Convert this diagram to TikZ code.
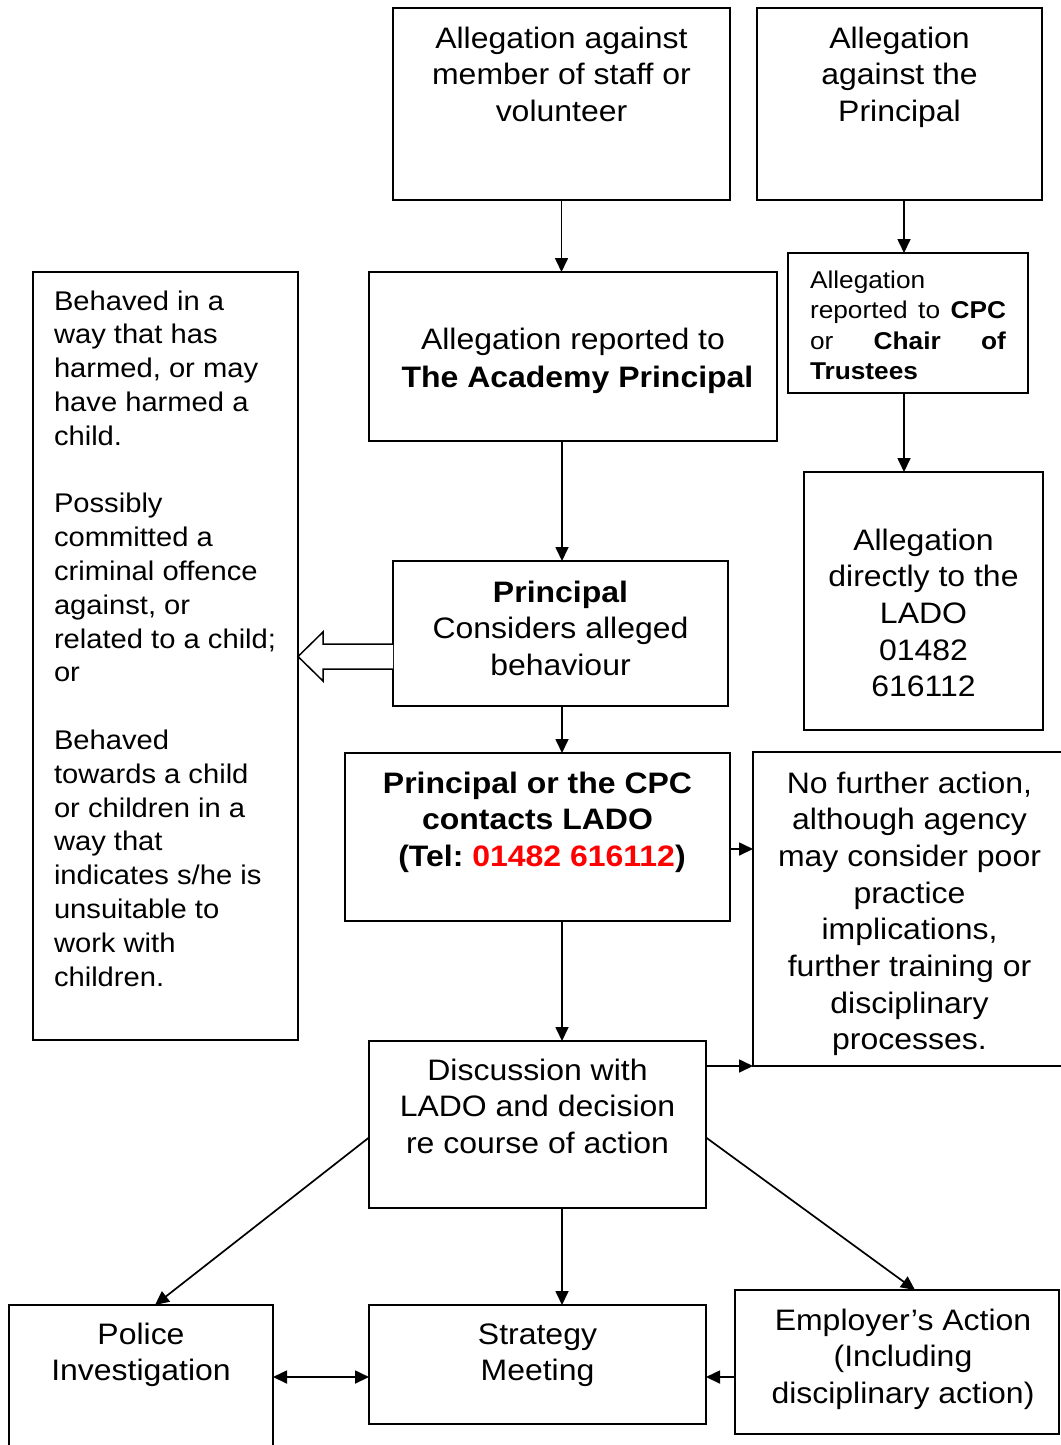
\documentclass[tikz,border=0pt]{standalone}
\usepackage{fontspec}
\setmainfont[FakeStretch=1.08]{Liberation Sans}
\usetikzlibrary{arrows.meta}
\frenchspacing
\newcommand\fmain{\fontsize{29.6pt}{36.7pt}\selectfont}
\newcommand\fleft{\fontsize{27pt}{33.8pt}\selectfont}
\newcommand\fsmall{\fontsize{24.3pt}{30.5pt}\selectfont}
\newcommand\T{\rule{0pt}{24pt}}
\begin{document}
\begin{tikzpicture}[x=1pt,y=-1pt,
  box/.style={draw, line width=1.6pt, rectangle, inner sep=0pt, outer sep=0pt},
  txt/.style={inner sep=0pt, outer sep=0pt, align=center, font=\fmain, anchor=north},
  arr/.style={line width=1.7pt, -{Triangle[length=14pt,width=13pt]}},
  arrdbl/.style={line width=1.7pt, {Triangle[length=14pt,width=13pt]}-{Triangle[length=14pt,width=13pt]}},
]
\useasboundingbox (0,0) rectangle (1060,1445);

% boxes
\node[box, minimum width=337pt, minimum height=192pt] (A) at (561.5,104) {};
\node[box, minimum width=285pt, minimum height=192pt] (B) at (899.5,104) {};
\node[box, minimum width=408pt, minimum height=169pt] (C) at (573,356.5) {};
\node[box, minimum width=240pt, minimum height=140pt] (D) at (908,323) {};
\node[box, minimum width=265pt, minimum height=768pt] (E) at (165.5,656) {};
\node[box, minimum width=335pt, minimum height=145pt] (F) at (560.5,633.5) {};
\node[box, minimum width=239pt, minimum height=258pt] (G) at (923.5,601) {};
\node[box, minimum width=385pt, minimum height=168pt] (H) at (537.5,837) {};
\node[box, minimum width=313pt, minimum height=314pt] (I) at (909.5,909) {};
\node[box, minimum width=337pt, minimum height=167pt] (J) at (537.5,1124.5) {};
\node[box, minimum width=264pt, minimum height=160pt] (P) at (141,1385) {};
\node[box, minimum width=337pt, minimum height=119pt] (S) at (537.5,1364.5) {};
\node[box, minimum width=324pt, minimum height=144pt] (M) at (897,1362) {};

% texts
\node[txt] (tA) at (561.5,24) {\T Allegation against\\member of staff or\\volunteer};
\node[txt] (tB) at (899.5,24) {\T Allegation\\against the\\Principal};
\node[txt] (tC) at (573,325) {\T Allegation reported to\\[1.3pt]\hspace*{9pt}\textbf{The Academy Principal}};
\node[inner sep=0pt, outer sep=0pt, anchor=north west, font=\fsmall, align=left] (tD) at (810,268)
  {\rule{0pt}{20pt}Allegation\\\makebox[196pt][s]{reported to \textbf{CPC}}\\\makebox[196pt][s]{or \textbf{Chair} \textbf{of}}\\\textbf{Trustees}};
\node[inner sep=0pt, outer sep=0pt, anchor=north west, font=\fleft, align=left] (tE) at (54,288)
  {\rule{0pt}{22pt}Behaved in a\\way that has\\harmed, or may\\have harmed a\\child.\\[33.8pt]Possibly\\committed a\\criminal offence\\against, or\\related to a child;\\or\\[33.8pt]Behaved\\towards a child\\or children in a\\way that\\indicates s/he is\\unsuitable to\\work with\\children.};
\node[txt] (tF) at (560.5,578) {\T\textbf{Principal}\\Considers alleged\\behaviour};
\node[txt] (tG) at (923.5,526) {\T Allegation\\directly to the\\LADO\\01482\\616112};
\node[txt, font=\fmain\bfseries] (tH) at (537.5,769) {\T Principal or the CPC\\contacts LADO\\\hspace*{9pt}(Tel: \textcolor{red}{01482 616112})};
\node[txt] (tI) at (909.5,769) {\T No further action,\\although agency\\may consider poor\\practice\\implications,\\further training or\\disciplinary\\processes.};
\node[txt] (tJ) at (537.5,1056) {\T Discussion with\\LADO and decision\\re course of action};
\node[txt] (tP) at (141,1320) {\T Police\\Investigation};
\node[txt] (tS) at (537.5,1320) {\T Strategy\\Meeting};
\node[txt] (tM) at (903,1306) {\T Employer’s Action\\(Including\\disciplinary action)};

% lanes
\coordinate (xm) at (562,0);
\coordinate (xr) at (904,0);
\coordinate (hy) at (0,849);
\coordinate (ly) at (0,1377);

% connectors
\draw[arr] (A.south) -- (A.south |- C.north);
\draw[arr] (xr |- B.south) -- (xr |- D.north);
\draw[arr] (xr |- D.south) -- (xr |- G.north);
\draw[arr] (xm |- C.south) -- (xm |- F.north);
\draw[arr] (xm |- F.south) -- (xm |- H.north);
\draw[arr] (H.east |- hy) -- (I.west |- hy);
\draw[arr] (xm |- H.south) -- (xm |- J.north);
\draw[arr] (J.east |- I.south) -- (I.south west);
\draw[arr] ([yshift=-13pt]J.west) -- ([xshift=14pt]P.north);
\draw[arr] (xm |- J.south) -- (xm |- S.north);
\draw[arr] ([yshift=-13pt]J.east) -- ([xshift=18pt]M.north);
\draw[arrdbl] (P.east |- ly) -- (S.west |- ly);
\draw[arr] (M.west |- ly) -- (S.east |- ly);

% hollow arrow from F to E
\draw[line width=1.5pt, fill=white, line join=miter]
  (393,644) -- (323,644) -- (323,632) -- (298,656.5) -- (323,681) -- (323,669) -- (393,669);
\end{tikzpicture}
\end{document}
